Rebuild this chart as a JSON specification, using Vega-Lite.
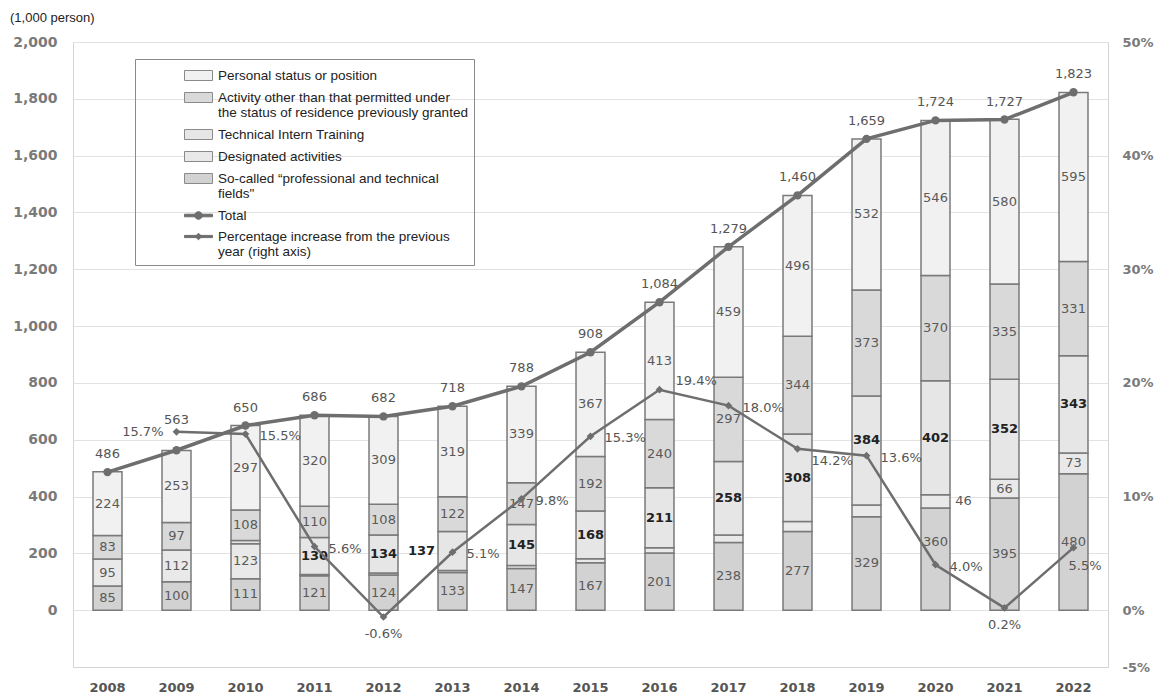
{
  "$schema": "https://vega.github.io/schema/vega-lite/v6.json",
  "width": 1035,
  "height": 625,
  "autosize": {"type": "none"},
  "padding": {"left": 73, "top": 42, "right": 51, "bottom": 30},
  "config": {
    "view": {"stroke": "#d4d4d4", "strokeWidth": 1},
    "font": "DejaVu Sans",
    "locale": {"number": {"decimal": ".", "thousands": ",", "grouping": [3], "currency": ["$", ""], "minus": "-"}},
    "axisX": {"labelAngle": 0, "ticks": false, "domain": false, "grid": false, "labelFont": "DejaVu Sans", "labelFontWeight": "bold", "labelFontSize": 13, "labelColor": "#555555", "labelPadding": 14},
    "axisLeft": {"grid": true, "gridColor": "#e2e2e2", "domain": false, "ticks": false, "labelPadding": 16, "labelFont": "DejaVu Sans", "labelFontWeight": "bold", "labelFontSize": 14, "labelColor": "#7a7a7a", "labelFlush": false},
    "axisRight": {"grid": false, "domain": false, "ticks": false, "labelPadding": 14, "labelFont": "DejaVu Sans", "labelFontWeight": "bold", "labelFontSize": 13, "labelColor": "#7a7a7a", "labelFlush": false}
  },
  "title": {"text": "(1,000 person)", "anchor": "start", "frame": "group", "dx": -63, "offset": 10, "font": "Liberation Sans", "fontSize": 13, "fontWeight": "normal", "color": "#222222"},
  "datasets": {
    "stack": [
      {"year": 2008, "cat": "professional", "ord": 1, "value": 85},
      {"year": 2008, "cat": "designated", "ord": 2, "value": 95},
      {"year": 2008, "cat": "other", "ord": 4, "value": 83},
      {"year": 2008, "cat": "status", "ord": 5, "value": 224},
      {"year": 2009, "cat": "professional", "ord": 1, "value": 100},
      {"year": 2009, "cat": "designated", "ord": 2, "value": 112},
      {"year": 2009, "cat": "other", "ord": 4, "value": 97},
      {"year": 2009, "cat": "status", "ord": 5, "value": 253},
      {"year": 2010, "cat": "professional", "ord": 1, "value": 111},
      {"year": 2010, "cat": "designated", "ord": 2, "value": 123},
      {"year": 2010, "cat": "intern", "ord": 3, "value": 11},
      {"year": 2010, "cat": "other", "ord": 4, "value": 108},
      {"year": 2010, "cat": "status", "ord": 5, "value": 297},
      {"year": 2011, "cat": "professional", "ord": 1, "value": 121},
      {"year": 2011, "cat": "designated", "ord": 2, "value": 5},
      {"year": 2011, "cat": "intern", "ord": 3, "value": 130},
      {"year": 2011, "cat": "other", "ord": 4, "value": 110},
      {"year": 2011, "cat": "status", "ord": 5, "value": 320},
      {"year": 2012, "cat": "professional", "ord": 1, "value": 124},
      {"year": 2012, "cat": "designated", "ord": 2, "value": 7},
      {"year": 2012, "cat": "intern", "ord": 3, "value": 134},
      {"year": 2012, "cat": "other", "ord": 4, "value": 108},
      {"year": 2012, "cat": "status", "ord": 5, "value": 309},
      {"year": 2013, "cat": "professional", "ord": 1, "value": 133},
      {"year": 2013, "cat": "designated", "ord": 2, "value": 7},
      {"year": 2013, "cat": "intern", "ord": 3, "value": 137},
      {"year": 2013, "cat": "other", "ord": 4, "value": 122},
      {"year": 2013, "cat": "status", "ord": 5, "value": 319},
      {"year": 2014, "cat": "professional", "ord": 1, "value": 147},
      {"year": 2014, "cat": "designated", "ord": 2, "value": 10},
      {"year": 2014, "cat": "intern", "ord": 3, "value": 145},
      {"year": 2014, "cat": "other", "ord": 4, "value": 147},
      {"year": 2014, "cat": "status", "ord": 5, "value": 339},
      {"year": 2015, "cat": "professional", "ord": 1, "value": 167},
      {"year": 2015, "cat": "designated", "ord": 2, "value": 14},
      {"year": 2015, "cat": "intern", "ord": 3, "value": 168},
      {"year": 2015, "cat": "other", "ord": 4, "value": 192},
      {"year": 2015, "cat": "status", "ord": 5, "value": 367},
      {"year": 2016, "cat": "professional", "ord": 1, "value": 201},
      {"year": 2016, "cat": "designated", "ord": 2, "value": 19},
      {"year": 2016, "cat": "intern", "ord": 3, "value": 211},
      {"year": 2016, "cat": "other", "ord": 4, "value": 240},
      {"year": 2016, "cat": "status", "ord": 5, "value": 413},
      {"year": 2017, "cat": "professional", "ord": 1, "value": 238},
      {"year": 2017, "cat": "designated", "ord": 2, "value": 27},
      {"year": 2017, "cat": "intern", "ord": 3, "value": 258},
      {"year": 2017, "cat": "other", "ord": 4, "value": 297},
      {"year": 2017, "cat": "status", "ord": 5, "value": 459},
      {"year": 2018, "cat": "professional", "ord": 1, "value": 277},
      {"year": 2018, "cat": "designated", "ord": 2, "value": 35},
      {"year": 2018, "cat": "intern", "ord": 3, "value": 308},
      {"year": 2018, "cat": "other", "ord": 4, "value": 344},
      {"year": 2018, "cat": "status", "ord": 5, "value": 496},
      {"year": 2019, "cat": "professional", "ord": 1, "value": 329},
      {"year": 2019, "cat": "designated", "ord": 2, "value": 41},
      {"year": 2019, "cat": "intern", "ord": 3, "value": 384},
      {"year": 2019, "cat": "other", "ord": 4, "value": 373},
      {"year": 2019, "cat": "status", "ord": 5, "value": 532},
      {"year": 2020, "cat": "professional", "ord": 1, "value": 360},
      {"year": 2020, "cat": "designated", "ord": 2, "value": 46},
      {"year": 2020, "cat": "intern", "ord": 3, "value": 402},
      {"year": 2020, "cat": "other", "ord": 4, "value": 370},
      {"year": 2020, "cat": "status", "ord": 5, "value": 546},
      {"year": 2021, "cat": "professional", "ord": 1, "value": 395},
      {"year": 2021, "cat": "designated", "ord": 2, "value": 66},
      {"year": 2021, "cat": "intern", "ord": 3, "value": 352},
      {"year": 2021, "cat": "other", "ord": 4, "value": 335},
      {"year": 2021, "cat": "status", "ord": 5, "value": 580},
      {"year": 2022, "cat": "professional", "ord": 1, "value": 480},
      {"year": 2022, "cat": "designated", "ord": 2, "value": 73},
      {"year": 2022, "cat": "intern", "ord": 3, "value": 343},
      {"year": 2022, "cat": "other", "ord": 4, "value": 331},
      {"year": 2022, "cat": "status", "ord": 5, "value": 595}
    ],
    "totals": [
      {"year": 2008, "total": 486, "pct": null},
      {"year": 2009, "total": 563, "pct": 0.157},
      {"year": 2010, "total": 650, "pct": 0.155},
      {"year": 2011, "total": 686, "pct": 0.056},
      {"year": 2012, "total": 682, "pct": -0.006},
      {"year": 2013, "total": 718, "pct": 0.051},
      {"year": 2014, "total": 788, "pct": 0.098},
      {"year": 2015, "total": 908, "pct": 0.153},
      {"year": 2016, "total": 1084, "pct": 0.194},
      {"year": 2017, "total": 1279, "pct": 0.180},
      {"year": 2018, "total": 1460, "pct": 0.142},
      {"year": 2019, "total": 1659, "pct": 0.136},
      {"year": 2020, "total": 1724, "pct": 0.040},
      {"year": 2021, "total": 1727, "pct": 0.002},
      {"year": 2022, "total": 1823, "pct": 0.055}
    ]
  },
  "layer": [
    {
      "layer": [
        {
          "data": {"name": "stack"},
          "layer": [
            {
              "mark": {"type": "bar", "stroke": "#7a7a7a", "strokeWidth": 1.5},
              "encoding": {
                "x": {"field": "year", "type": "ordinal", "title": null, "scale": {"paddingInner": 0.58, "paddingOuter": 0.29}},
                "y": {"field": "value", "type": "quantitative", "title": null, "stack": "zero", "scale": {"domain": [-200, 2000], "nice": false},
                  "axis": {"values": [0, 200, 400, 600, 800, 1000, 1200, 1400, 1600, 1800, 2000], "format": ",", "labelExpr": "format(datum.value, ',')"}},
                "order": {"field": "ord", "type": "quantitative"},
                "color": {"field": "cat", "type": "nominal",
                  "scale": {"domain": ["status", "other", "intern", "designated", "professional", "total", "pct"], "range": ["#f1f1f1", "#d9d9d9", "#e6e6e6", "#e9e9e9", "#d2d2d2", "#6e6e6e", "#6e6e6e"]},
                  "legend": {
                    "orient": "none", "legendX": 62, "legendY": 17, "title": null, "padding": 6,
                    "strokeColor": "#8a8a8a", "symbolSize": 400, "symbolOffset": 47, "labelOffset": 9,
                    "labelFont": "Liberation Sans", "labelFontSize": 13.5, "labelColor": "#222222", "labelLimit": 0, "rowPadding": 4,
                    "symbolStrokeColor": "#8a8a8a", "symbolStrokeWidth": 1, "symbolOpacity": 1,
                    "labelExpr": "datum.label === 'status' ? 'Personal status or position' : datum.label === 'other' ? ['Activity other than that permitted under', 'the status of residence previously granted'] : datum.label === 'intern' ? 'Technical Intern Training' : datum.label === 'designated' ? 'Designated activities' : datum.label === 'professional' ? ['So-called “professional and technical', 'fields\"'] : datum.label === 'total' ? 'Total' : ['Percentage increase from the previous', 'year (right axis)']"
                  }
                }
              }
            },
            {
              "mark": {"type": "point", "filled": true, "opacity": 0, "strokeWidth": 1},
              "encoding": {
                "x": {"field": "year", "type": "ordinal", "title": null},
                "y": {"field": "value", "type": "quantitative", "title": null},
                "color": {"field": "cat", "type": "nominal",
                  "legend": {
                    "orient": "none", "legendX": 62, "legendY": 17, "title": null, "padding": 6,
                    "strokeColor": "#8a8a8a", "symbolSize": 400, "symbolOffset": 47, "labelOffset": 9,
                    "labelFont": "Liberation Sans", "labelFontSize": 13.5, "labelColor": "#222222", "labelLimit": 0, "rowPadding": 4,
                    "symbolStrokeWidth": 1, "symbolOpacity": 1,
                    "labelExpr": "datum.label === 'status' ? 'Personal status or position' : datum.label === 'other' ? ['Activity other than that permitted under', 'the status of residence previously granted'] : datum.label === 'intern' ? 'Technical Intern Training' : datum.label === 'designated' ? 'Designated activities' : datum.label === 'professional' ? ['So-called “professional and technical', 'fields\"'] : datum.label === 'total' ? 'Total' : ['Percentage increase from the previous', 'year (right axis)']"
                  }
                },
                "stroke": {"field": "cat", "type": "nominal",
                  "scale": {"domain": ["status", "other", "intern", "designated", "professional", "total", "pct"], "range": ["#8a8a8a", "#8a8a8a", "#8a8a8a", "#8a8a8a", "#8a8a8a", "#6e6e6e", "#6e6e6e"]},
                  "legend": {
                    "orient": "none", "legendX": 62, "legendY": 17, "title": null, "padding": 6,
                    "strokeColor": "#8a8a8a", "symbolSize": 400, "symbolOffset": 47, "labelOffset": 9,
                    "labelFont": "Liberation Sans", "labelFontSize": 13.5, "labelColor": "#222222", "labelLimit": 0, "rowPadding": 4,
                    "symbolStrokeWidth": 1, "symbolOpacity": 1,
                    "labelExpr": "datum.label === 'status' ? 'Personal status or position' : datum.label === 'other' ? ['Activity other than that permitted under', 'the status of residence previously granted'] : datum.label === 'intern' ? 'Technical Intern Training' : datum.label === 'designated' ? 'Designated activities' : datum.label === 'professional' ? ['So-called “professional and technical', 'fields\"'] : datum.label === 'total' ? 'Total' : ['Percentage increase from the previous', 'year (right axis)']"
                  }
                },
                "shape": {"field": "cat", "type": "nominal",
                  "scale": {"domain": ["status", "other", "intern", "designated", "professional", "total", "pct"],
                    "range": ["M-1.4,-0.5H1.4V0.5H-1.4Z", "M-1.4,-0.5H1.4V0.5H-1.4Z", "M-1.4,-0.5H1.4V0.5H-1.4Z", "M-1.4,-0.5H1.4V0.5H-1.4Z", "M-1.4,-0.5H1.4V0.5H-1.4Z",
                      "M-1.4,-0.13H1.4V0.13H-1.4Z M0.38,0A0.38,0.38 0 1,1 -0.38,0A0.38,0.38 0 1,1 0.38,0Z",
                      "M-1.4,-0.11H1.4V0.11H-1.4Z M0,-0.33L0.33,0L0,0.33L-0.33,0Z"]},
                  "legend": {
                    "orient": "none", "legendX": 62, "legendY": 17, "title": null, "padding": 6,
                    "strokeColor": "#8a8a8a", "symbolSize": 400, "symbolOffset": 47, "labelOffset": 9,
                    "labelFont": "Liberation Sans", "labelFontSize": 13.5, "labelColor": "#222222", "labelLimit": 0, "rowPadding": 4,
                    "symbolStrokeWidth": 1, "symbolOpacity": 1,
                    "labelExpr": "datum.label === 'status' ? 'Personal status or position' : datum.label === 'other' ? ['Activity other than that permitted under', 'the status of residence previously granted'] : datum.label === 'intern' ? 'Technical Intern Training' : datum.label === 'designated' ? 'Designated activities' : datum.label === 'professional' ? ['So-called “professional and technical', 'fields\"'] : datum.label === 'total' ? 'Total' : ['Percentage increase from the previous', 'year (right axis)']"
                  }
                }
              }
            },
            {
              "mark": {"type": "text", "fontSize": 13, "color": "#5a5a5a"},
              "encoding": {
                "x": {"field": "year", "type": "ordinal", "title": null},
                "y": {"field": "value", "type": "quantitative", "title": null, "stack": "zero", "bandPosition": 0.5},
                "order": {"field": "ord", "type": "quantitative"},
                "detail": {"field": "cat"},
                "text": {"condition": {"test": "datum.value < 45 || datum.cat === 'intern' || (datum.year === 2020 && datum.cat === 'designated') || (datum.year === 2020 && datum.cat === 'professional')", "value": ""}, "field": "value", "type": "quantitative"}
              }
            },
            {
              "mark": {"type": "text", "fontSize": 13, "color": "#5a5a5a", "dy": -17},
              "encoding": {
                "x": {"field": "year", "type": "ordinal", "title": null},
                "y": {"field": "value", "type": "quantitative", "title": null, "stack": "zero", "bandPosition": 0.5},
                "order": {"field": "ord", "type": "quantitative"},
                "detail": {"field": "cat"},
                "text": {"condition": {"test": "!(datum.year === 2020 && datum.cat === 'professional')", "value": ""}, "field": "value", "type": "quantitative"}
              }
            },
            {
              "mark": {"type": "text", "fontSize": 13, "fontWeight": "bold", "color": "#222222"},
              "encoding": {
                "x": {"field": "year", "type": "ordinal", "title": null},
                "y": {"field": "value", "type": "quantitative", "title": null, "stack": "zero", "bandPosition": 0.5},
                "order": {"field": "ord", "type": "quantitative"},
                "detail": {"field": "cat"},
                "text": {"condition": {"test": "datum.cat !== 'intern' || datum.year === 2013 || datum.year === 2019 || datum.value < 45", "value": ""}, "field": "value", "type": "quantitative"}
              }
            },
            {
              "mark": {"type": "text", "fontSize": 13, "fontWeight": "bold", "color": "#222222", "dy": -11},
              "encoding": {
                "x": {"field": "year", "type": "ordinal", "title": null},
                "y": {"field": "value", "type": "quantitative", "title": null, "stack": "zero", "bandPosition": 0.5},
                "order": {"field": "ord", "type": "quantitative"},
                "detail": {"field": "cat"},
                "text": {"condition": {"test": "!(datum.cat === 'intern' && datum.year === 2019)", "value": ""}, "field": "value", "type": "quantitative"}
              }
            },
            {
              "mark": {"type": "text", "fontSize": 13, "fontWeight": "bold", "color": "#222222", "dx": -31},
              "encoding": {
                "x": {"field": "year", "type": "ordinal", "title": null},
                "y": {"field": "value", "type": "quantitative", "title": null, "stack": "zero", "bandPosition": 0.5},
                "order": {"field": "ord", "type": "quantitative"},
                "detail": {"field": "cat"},
                "text": {"condition": {"test": "!(datum.cat === 'intern' && datum.year === 2013)", "value": ""}, "field": "value", "type": "quantitative"}
              }
            },
            {
              "mark": {"type": "text", "fontSize": 13, "color": "#5a5a5a", "dx": 28},
              "encoding": {
                "x": {"field": "year", "type": "ordinal", "title": null},
                "y": {"field": "value", "type": "quantitative", "title": null, "stack": "zero", "bandPosition": 0.5},
                "order": {"field": "ord", "type": "quantitative"},
                "detail": {"field": "cat"},
                "text": {"condition": {"test": "!(datum.cat === 'designated' && datum.year === 2020)", "value": ""}, "field": "value", "type": "quantitative"}
              }
            }
          ]
        },
        {
          "data": {"name": "totals"},
          "layer": [
            {
              "mark": {"type": "line", "color": "#6e6e6e", "strokeWidth": 3.5, "point": {"filled": true, "size": 70, "color": "#6e6e6e"}},
              "encoding": {
                "x": {"field": "year", "type": "ordinal", "title": null},
                "y": {"field": "total", "type": "quantitative", "title": null}
              }
            },
            {
              "transform": [{"filter": "datum.year !== 2009"}],
              "mark": {"type": "text", "fontSize": 13, "color": "#555555", "dy": -18},
              "encoding": {
                "x": {"field": "year", "type": "ordinal", "title": null},
                "y": {"field": "total", "type": "quantitative", "title": null},
                "text": {"field": "total", "type": "quantitative", "format": ","}
              }
            },
            {
              "transform": [{"filter": "datum.year === 2009"}],
              "mark": {"type": "text", "fontSize": 13, "color": "#555555", "dy": -30},
              "encoding": {
                "x": {"field": "year", "type": "ordinal", "title": null},
                "y": {"field": "total", "type": "quantitative", "title": null},
                "text": {"field": "total", "type": "quantitative", "format": ","}
              }
            }
          ]
        }
      ]
    },
    {
      "data": {"name": "totals"},
      "transform": [{"filter": "isValid(datum.pct)"}],
      "layer": [
        {
          "mark": {"type": "line", "color": "#6e6e6e", "strokeWidth": 2.5, "point": {"filled": true, "size": 60, "shape": "diamond", "color": "#6e6e6e"}},
          "encoding": {
            "x": {"field": "year", "type": "ordinal", "title": null},
            "y": {"field": "pct", "type": "quantitative", "title": null, "scale": {"domain": [-0.05, 0.5], "nice": false},
              "axis": {"orient": "right", "values": [-0.05, 0, 0.1, 0.2, 0.3, 0.4, 0.5], "format": ".0%"}}
          }
        },
        {
          "transform": [{"filter": "indexof([2010, 2011, 2013, 2014, 2015, 2017, 2019, 2020], datum.year) >= 0"}],
          "mark": {"type": "text", "fontSize": 13, "color": "#555555", "align": "left", "dx": 14, "dy": 2},
          "encoding": {
            "x": {"field": "year", "type": "ordinal", "title": null},
            "y": {"field": "pct", "type": "quantitative", "title": null},
            "text": {"field": "pct", "type": "quantitative", "format": ".1%"}
          }
        },
        {
          "transform": [{"filter": "datum.year === 2009"}],
          "mark": {"type": "text", "fontSize": 13, "color": "#555555", "align": "right", "dx": -13, "dy": 0},
          "encoding": {
            "x": {"field": "year", "type": "ordinal", "title": null},
            "y": {"field": "pct", "type": "quantitative", "title": null},
            "text": {"field": "pct", "type": "quantitative", "format": ".1%"}
          }
        },
        {
          "transform": [{"filter": "datum.year === 2012 || datum.year === 2021"}],
          "mark": {"type": "text", "fontSize": 13, "color": "#555555", "align": "center", "dy": 17},
          "encoding": {
            "x": {"field": "year", "type": "ordinal", "title": null},
            "y": {"field": "pct", "type": "quantitative", "title": null},
            "text": {"field": "pct", "type": "quantitative", "format": ".1%"}
          }
        },
        {
          "transform": [{"filter": "datum.year === 2016"}],
          "mark": {"type": "text", "fontSize": 13, "color": "#555555", "align": "left", "dx": 16, "dy": -9},
          "encoding": {
            "x": {"field": "year", "type": "ordinal", "title": null},
            "y": {"field": "pct", "type": "quantitative", "title": null},
            "text": {"field": "pct", "type": "quantitative", "format": ".1%"}
          }
        },
        {
          "transform": [{"filter": "datum.year === 2018"}],
          "mark": {"type": "text", "fontSize": 13, "color": "#555555", "align": "left", "dx": 14, "dy": 12},
          "encoding": {
            "x": {"field": "year", "type": "ordinal", "title": null},
            "y": {"field": "pct", "type": "quantitative", "title": null},
            "text": {"field": "pct", "type": "quantitative", "format": ".1%"}
          }
        },
        {
          "transform": [{"filter": "datum.year === 2022"}],
          "mark": {"type": "text", "fontSize": 13, "color": "#555555", "align": "left", "dx": -5, "dy": 18},
          "encoding": {
            "x": {"field": "year", "type": "ordinal", "title": null},
            "y": {"field": "pct", "type": "quantitative", "title": null},
            "text": {"field": "pct", "type": "quantitative", "format": ".1%"}
          }
        }
      ]
    }
  ],
  "resolve": {"scale": {"y": "independent"}}
}
